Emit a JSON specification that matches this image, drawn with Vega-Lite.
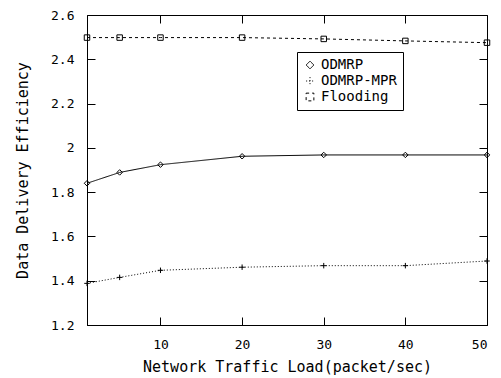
{
  "$schema": "https://vega.github.io/schema/vega-lite/v6.json",
  "width": 400,
  "height": 310,
  "autosize": {"type": "none"},
  "padding": {"left": 87, "top": 15, "right": 14, "bottom": 53},
  "background": "white",
  "config": {
    "view": {"stroke": "black", "strokeWidth": 1},
    "axis": {
      "labelFont": "DejaVu Sans Mono",
      "labelFontSize": 13,
      "labelColor": "black",
      "titleFont": "DejaVu Sans Mono",
      "titleFontSize": 15,
      "titleFontWeight": "normal",
      "titleColor": "black",
      "domainColor": "black",
      "ticks": false,
      "grid": true,
      "gridColor": "black",
      "gridOpacity": 1,
      "gridWidth": 1
    },
    "legend": {
      "labelFont": "DejaVu Sans Mono",
      "labelFontSize": 14,
      "labelColor": "black"
    }
  },
  "data": {
    "values": [
      {"series": "ODMRP", "load": 1, "eff": 1.84},
      {"series": "ODMRP", "load": 5, "eff": 1.889},
      {"series": "ODMRP", "load": 10, "eff": 1.924},
      {"series": "ODMRP", "load": 20, "eff": 1.962},
      {"series": "ODMRP", "load": 30, "eff": 1.968},
      {"series": "ODMRP", "load": 40, "eff": 1.968},
      {"series": "ODMRP", "load": 50, "eff": 1.968},
      {"series": "ODMRP-MPR", "load": 1, "eff": 1.388},
      {"series": "ODMRP-MPR", "load": 5, "eff": 1.415},
      {"series": "ODMRP-MPR", "load": 10, "eff": 1.447},
      {"series": "ODMRP-MPR", "load": 20, "eff": 1.461},
      {"series": "ODMRP-MPR", "load": 30, "eff": 1.468},
      {"series": "ODMRP-MPR", "load": 40, "eff": 1.468},
      {"series": "ODMRP-MPR", "load": 50, "eff": 1.489},
      {"series": "Flooding", "load": 1, "eff": 2.498},
      {"series": "Flooding", "load": 5, "eff": 2.498},
      {"series": "Flooding", "load": 10, "eff": 2.498},
      {"series": "Flooding", "load": 20, "eff": 2.498},
      {"series": "Flooding", "load": 30, "eff": 2.492},
      {"series": "Flooding", "load": 40, "eff": 2.483},
      {"series": "Flooding", "load": 50, "eff": 2.475}
    ]
  },
  "encoding": {
    "x": {
      "field": "load", "type": "quantitative",
      "scale": {"domain": [1, 50], "nice": false, "zero": false},
      "axis": {"values": [10, 20, 30, 40, 50], "title": "Network Traffic Load(packet/sec)", "gridDash": [8, 294, 8, 0], "labelPadding": 13, "titlePadding": 8}
    },
    "y": {
      "field": "eff", "type": "quantitative",
      "scale": {"domain": [1.2, 2.6], "nice": false, "zero": false},
      "axis": {"values": [1.2, 1.4, 1.6, 1.8, 2, 2.2, 2.4, 2.6], "format": "~g", "title": "Data Delivery Efficiency", "gridDash": [8, 384, 8, 0], "labelPadding": 13, "titlePadding": 20}
    }
  },
  "layer": [
    {
      "mark": {"type": "line", "color": "black", "strokeWidth": 1},
      "encoding": {
        "strokeDash": {
          "field": "series", "type": "nominal",
          "scale": {"domain": ["ODMRP", "ODMRP-MPR", "Flooding"], "range": [[1, 0], [1, 2], [3, 3]]},
          "legend": {
            "title": null,
            "orient": "none",
            "legendX": 210,
            "legendY": 37,
            "strokeColor": "black",
            "padding": 6,
            "symbolSize": 60,
            "symbolStrokeColor": "black",
            "symbolStrokeWidth": 1,
            "rowPadding": 2
          }
        }
      }
    },
    {
      "mark": {"type": "point", "color": "black", "strokeWidth": 1, "filled": false, "opacity": 1},
      "encoding": {
        "shape": {
          "field": "series", "type": "nominal",
          "scale": {"domain": ["ODMRP", "ODMRP-MPR", "Flooding"], "range": ["diamond", "M-1,0H1M0,-1V1", "square"]},
          "legend": {
            "title": null,
            "orient": "none",
            "legendX": 210,
            "legendY": 37,
            "strokeColor": "black",
            "padding": 6,
            "symbolSize": 60,
            "symbolStrokeColor": "black",
            "symbolStrokeWidth": 1,
            "rowPadding": 2
          }
        }
      }
    }
  ]
}
